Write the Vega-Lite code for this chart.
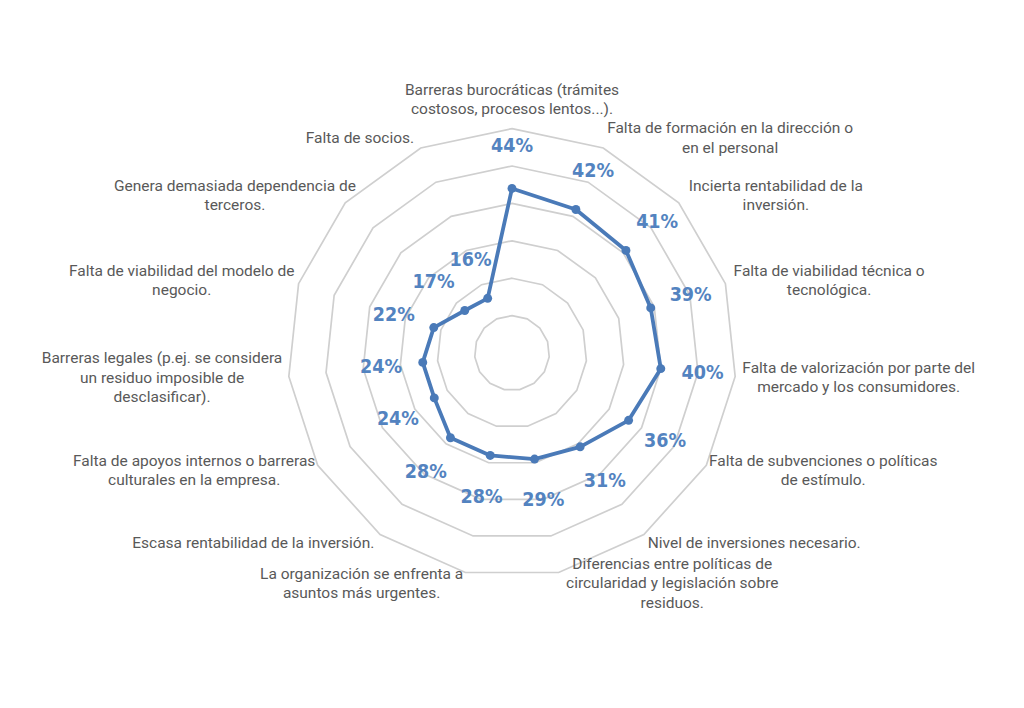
{
  "$schema": "https://vega.github.io/schema/vega-lite/v6.json",
  "width": 1024,
  "height": 708,
  "autosize": {"type": "none"},
  "padding": 0,
  "background": "white",
  "config": {"view": {"stroke": null}},
  "data": {
    "values": [
      {"i": 0, "label": "Barreras burocráticas (trámites\ncostosos, procesos lentos...).", "value": 44},
      {"i": 1, "label": "Falta de formación en la dirección o\nen el personal", "value": 42},
      {"i": 2, "label": "Incierta rentabilidad de la\ninversión.", "value": 41},
      {"i": 3, "label": "Falta de viabilidad técnica o\ntecnológica.", "value": 39},
      {"i": 4, "label": "Falta de valorización por parte del\nmercado y los consumidores.", "value": 40},
      {"i": 5, "label": "Falta de subvenciones o políticas\nde estímulo.", "value": 36},
      {"i": 6, "label": "Nivel de inversiones necesario.", "value": 31},
      {"i": 7, "label": "Diferencias entre políticas de\ncircularidad y legislación sobre\nresiduos.", "value": 29},
      {"i": 8, "label": "La organización se enfrenta a\nasuntos más urgentes.", "value": 28},
      {"i": 9, "label": "Escasa rentabilidad de la inversión.", "value": 28},
      {"i": 10, "label": "Falta de apoyos internos o barreras\nculturales en la empresa.", "value": 24},
      {"i": 11, "label": "Barreras legales (p.ej. se considera\nun residuo imposible de\ndesclasificar).", "value": 24},
      {"i": 12, "label": "Falta de viabilidad del modelo de\nnegocio.", "value": 22},
      {"i": 13, "label": "Genera demasiada dependencia de\nterceros.", "value": 17},
      {"i": 14, "label": "Falta de socios.", "value": 16}
    ]
  },
  "transform": [
    {"calculate": "datum.i * 2 * PI / 15", "as": "a"}
  ],
  "layer": [
    {
      "transform": [
        {"calculate": "[10, 20, 30, 40, 50, 60]", "as": "level"},
        {"flatten": ["level"]},
        {"calculate": "datum.level * sin(datum.a)", "as": "gx"},
        {"calculate": "datum.level * cos(datum.a)", "as": "gy"}
      ],
      "mark": {"type": "line", "interpolate": "linear-closed", "color": "#cfcfcf", "strokeWidth": 1.7},
      "encoding": {
        "x": {"field": "gx", "type": "quantitative", "scale": {"domain": [-136.9, 136.9], "nice": false, "zero": false}, "axis": null},
        "y": {"field": "gy", "type": "quantitative", "scale": {"domain": [-94.92, 94.39], "nice": false, "zero": false}, "axis": null},
        "detail": {"field": "level", "type": "nominal"},
        "order": {"field": "i", "type": "quantitative"}
      }
    },
    {
      "transform": [
        {"calculate": "datum.value * sin(datum.a)", "as": "px"},
        {"calculate": "datum.value * cos(datum.a)", "as": "py"}
      ],
      "layer": [
        {
          "mark": {"type": "line", "interpolate": "linear-closed", "color": "#4a7ab8", "strokeWidth": 3.8, "strokeJoin": "round"},
          "encoding": {
            "x": {"field": "px", "type": "quantitative"},
            "y": {"field": "py", "type": "quantitative"},
            "order": {"field": "i", "type": "quantitative"}
          }
        },
        {
          "mark": {"type": "circle", "color": "#4a7ab8", "size": 80, "opacity": 1},
          "encoding": {
            "x": {"field": "px", "type": "quantitative"},
            "y": {"field": "py", "type": "quantitative"}
          }
        }
      ]
    },
    {
      "transform": [
        {"calculate": "datum.value + 42 / 3.74", "as": "r"},
        {"calculate": "datum.r * sin(datum.a)", "as": "tx"},
        {"calculate": "datum.r * cos(datum.a)", "as": "ty"},
        {"calculate": "datum.value + '%'", "as": "pct"}
      ],
      "mark": {"type": "text", "font": "DejaVu Sans Condensed, Liberation Sans Narrow, sans-serif", "fontWeight": "bold", "fontSize": 19.5, "color": "#5383c0", "align": "center", "baseline": "middle"},
      "encoding": {
        "x": {"field": "tx", "type": "quantitative"},
        "y": {"field": "ty", "type": "quantitative"},
        "text": {"field": "pct", "type": "nominal"}
      }
    },
    {
      "transform": [
        {"calculate": "split(datum.label, '\\n')", "as": "lines"},
        {"calculate": "length(datum.lines)", "as": "n"},
        {"calculate": "max(length(datum.lines[0]), length(datum.lines[1] || ''), length(datum.lines[2] || ''))", "as": "maxLen"},
        {"calculate": "abs(sin(datum.a)) < 0.01 ? 0 : (sin(datum.a) > 0 ? 1 : -1)", "as": "side"},
        {"calculate": "60 * sin(datum.a) + datum.side * (datum.maxLen * 3.3 + 8) / 3.74", "as": "lx"},
        {"calculate": "60 * cos(datum.a) + ((datum.side == 0 ? ((datum.n - 1) * 10 + 19) : cos(datum.a) * 11) + (datum.n - 1) * 9.75) / 3.74", "as": "ly"}
      ],
      "mark": {"type": "text", "font": "Roboto, sans-serif", "fontSize": 15.5, "color": "#595959", "align": "center", "baseline": "middle", "lineBreak": "\n", "lineHeight": 19.5},
      "encoding": {
        "x": {"field": "lx", "type": "quantitative"},
        "y": {"field": "ly", "type": "quantitative"},
        "text": {"field": "label", "type": "nominal"}
      }
    }
  ]
}
